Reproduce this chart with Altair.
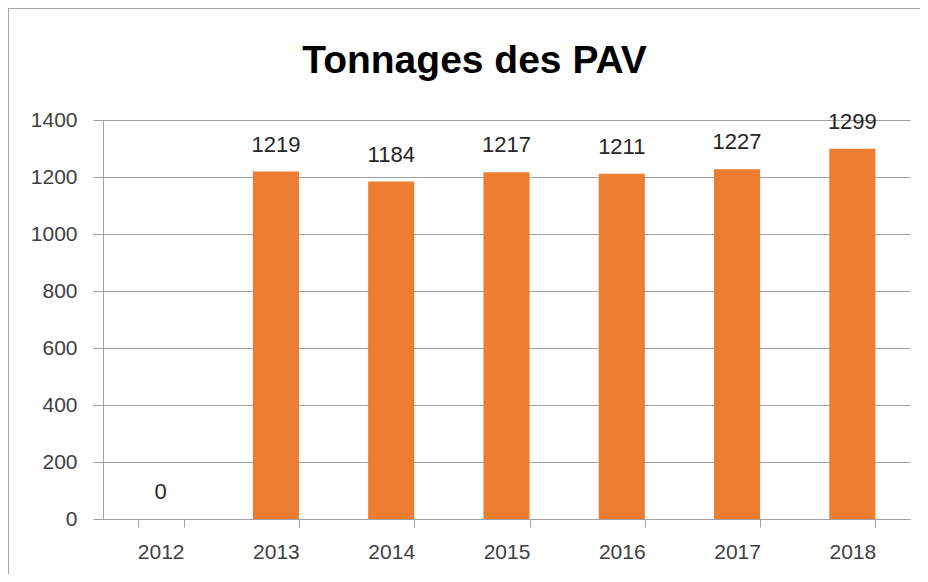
import altair as alt
import pandas as pd

years = ["2012", "2013", "2014", "2015", "2016", "2017", "2018"]
tonnages = [0, 1219, 1184, 1217, 1211, 1227, 1299]
y_ticks = [0, 200, 400, 600, 800, 1000, 1200, 1400]
title_text = "Tonnages des PAV"

df = pd.DataFrame({"year": years, "t": tonnages})

FONT = "Liberation Sans"
GRID = "#a0a0a0"
TXT = "#404040"

x = alt.X("year:N", sort=years, title=None,
          scale=alt.Scale(paddingInner=0.6, paddingOuter=0.3),
          axis=alt.Axis(labelAngle=0, labelFontSize=21, labelColor=TXT, labelFont=FONT,
                        labelPadding=14, tickBand="extent", tickSize=8, tickColor=GRID,
                        domainColor=GRID, grid=False))
y = alt.Y("t:Q", title=None,
          scale=alt.Scale(domain=[0, 1400], nice=False),
          axis=alt.Axis(values=y_ticks, format="d", labelFontSize=21, labelColor=TXT,
                        labelFont=FONT, labelPadding=16, tickSize=10, tickColor=GRID,
                        gridColor=GRID, domainColor=GRID))

bars = alt.Chart(df).mark_bar(color="#ED7D31").encode(x=x, y=y)
labels = alt.Chart(df).mark_text(dy=-20, baseline="alphabetic", fontSize=22,
                                 font=FONT, color="#262626").encode(
    x=alt.X("year:N", sort=years), y="t:Q", text="t:Q")

one = pd.DataFrame({"label": [title_text]})
border_top = alt.Chart(one).mark_rule(stroke="#a6a6a6", strokeWidth=1).encode(
    x=alt.value(-95), x2=alt.value(900), y=alt.value(-111.5))
border_left = alt.Chart(one).mark_rule(stroke="#a6a6a6", strokeWidth=1).encode(
    x=alt.value(-94.5), y=alt.value(-112), y2=alt.value(500))
title = alt.Chart(one).mark_text(
    fontSize=39, font=FONT, fontWeight="bold", color="#000000",
    align="center", baseline="alphabetic").encode(
    x=alt.value(371.5), y=alt.value(-47), text="label:N")

chart = alt.layer(border_top, border_left, bars, labels, title).properties(
    width=807, height=399,
    autosize=alt.AutoSizeParams(type="none"),
    padding={"left": 95, "top": 112, "right": 10, "bottom": 55},
).configure_view(stroke=None)

chart.save("out.html", embed_options={"renderer": "svg", "actions": False})
